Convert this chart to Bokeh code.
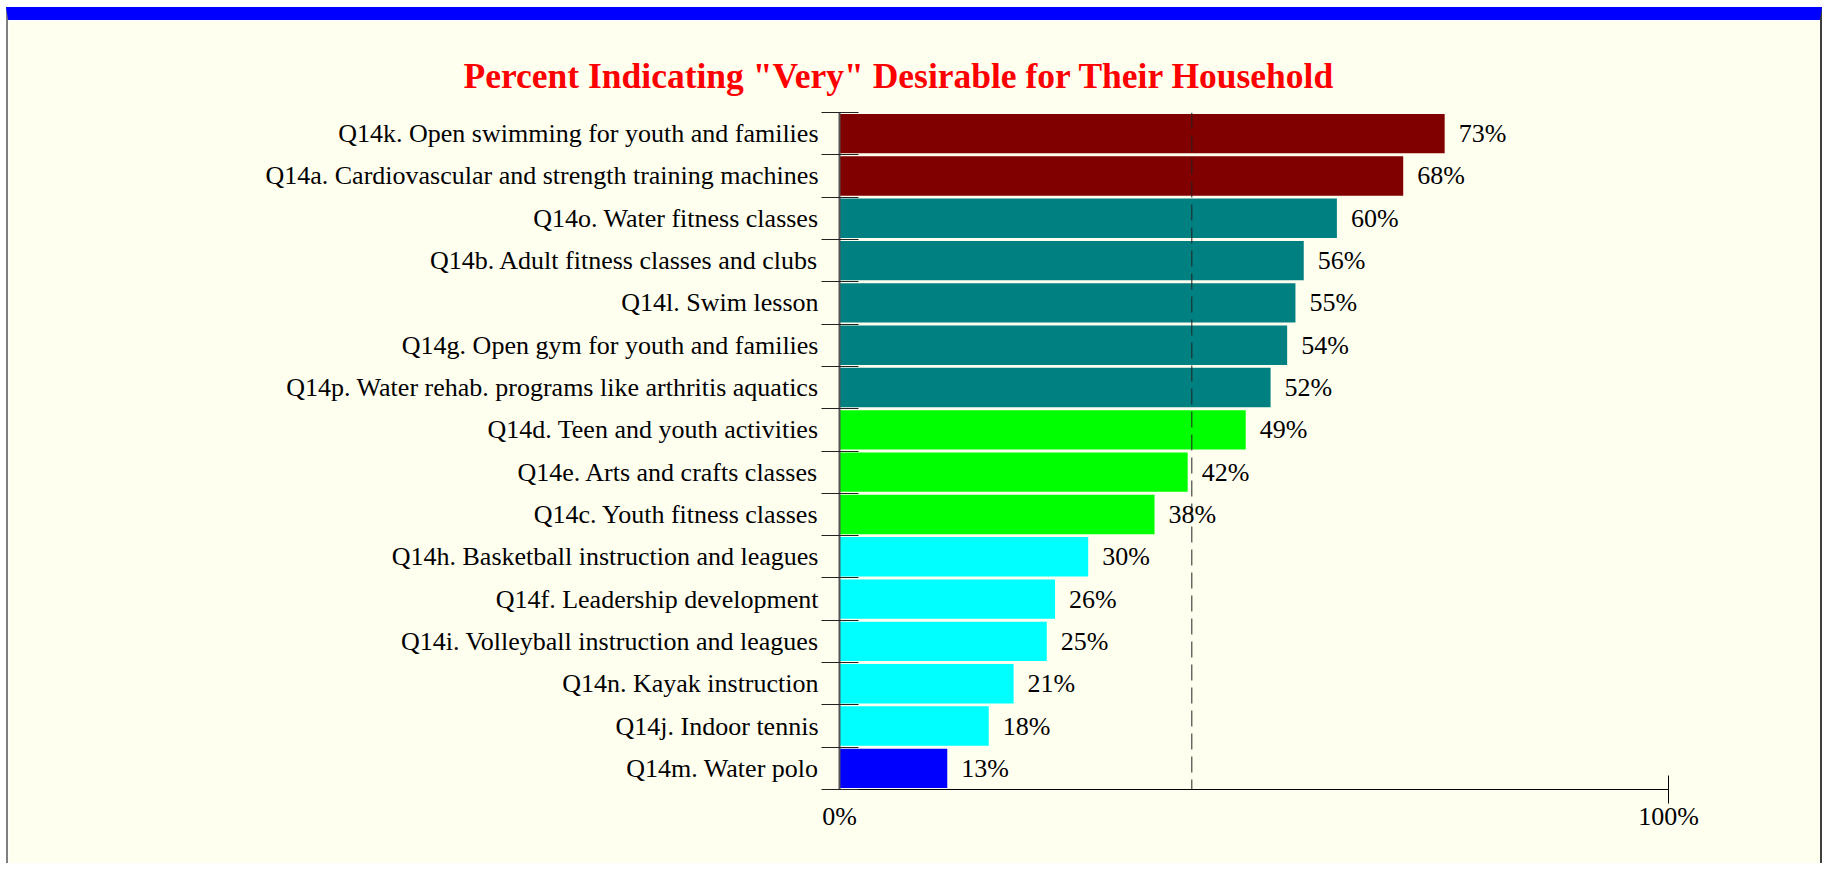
import numpy as np
from bokeh.plotting import figure
from bokeh.models import ColumnDataSource, Range1d, FixedTicker, Span, LabelSet, Title
from bokeh.embed import file_html
from bokeh.resources import INLINE

# ---------------- data ----------------
categories = [
    "Q14k. Open swimming for youth and families",
    "Q14a. Cardiovascular and strength training machines",
    "Q14o. Water fitness classes",
    "Q14b. Adult fitness classes and clubs",
    "Q14l. Swim lesson",
    "Q14g. Open gym for youth and families",
    "Q14p. Water rehab. programs like arthritis aquatics",
    "Q14d. Teen and youth activities",
    "Q14e. Arts and crafts classes",
    "Q14c. Youth fitness classes",
    "Q14h. Basketball instruction and leagues",
    "Q14f. Leadership development",
    "Q14i. Volleyball instruction and leagues",
    "Q14n. Kayak instruction",
    "Q14j. Indoor tennis",
    "Q14m. Water polo",
]
percent_values = [73, 68, 60, 56, 55, 54, 52, 49, 42, 38, 30, 26, 25, 21, 18, 13]
bar_colors = [
    "#800000", "#800000",
    "#008080", "#008080", "#008080", "#008080", "#008080",
    "#00FF00", "#00FF00", "#00FF00",
    "#00FFFF", "#00FFFF", "#00FFFF", "#00FFFF", "#00FFFF",
    "#0000FF",
]
x_tick_values = [0, 100]
x_tick_labels = ["0%", "100%"]
title_text = 'Percent Indicating "Very" Desirable for Their Household'

# ---------------- derived ----------------
n = len(categories)
y_centers = (np.arange(n)[::-1] + 0.5).tolist()   # first category on top
value_labels = [f"{v}%" for v in percent_values]
average_value = float(np.mean(percent_values))

source = ColumnDataSource(dict(
    y=y_centers, value=percent_values, color=bar_colors, label=value_labels,
))

IVORY = "#FFFFF0"
FONT = "Liberation Serif"

p = figure(
    width=1816, height=856,
    x_range=Range1d(0, 100), y_range=Range1d(0, n),
    output_backend="svg", toolbar_location=None, title=None,
    min_border_left=831, min_border_right=156,
    min_border_top=92, min_border_bottom=87,
    background_fill_color=IVORY, border_fill_color=IVORY,
)
p.styles = {
    "margin-left": "6px",
    "margin-top": "7px",
    "border-top": "13px solid #0000FF",
    "border-left": "2px solid #7f7f7f",
    "border-right": "2px solid #3f3f3f",
}
p.outline_line_color = None
p.grid.visible = False

# title
p.add_layout(Title(
    text=title_text, align="left", offset=-376, standoff=33,
    text_font=FONT, text_font_size="35.5px", text_font_style="bold",
    text_color="#FF0000",
), "above")

# bars
p.hbar(y="y", right="value", left=0, height=0.93, color="color",
       line_color=None, source=source)

# value labels
p.add_layout(LabelSet(
    x="value", y="y", text="label", source=source,
    x_offset=14, text_align="left", text_baseline="middle",
    text_font=FONT, text_font_size="26px", text_color="black",
))

# average dashed line
p.add_layout(Span(location=average_value, dimension="height",
                  line_color="#222222", line_width=1, line_dash="16 7"))

# x axis
xa = p.xaxis[0]
xa.ticker = FixedTicker(ticks=x_tick_values, minor_ticks=[x_tick_values[-1]])
xa.major_label_overrides = {t: l for t, l in zip(x_tick_values, x_tick_labels)}
xa.major_tick_in = 0
xa.major_tick_out = 0
xa.minor_tick_in = 14
xa.minor_tick_out = 14
xa.minor_tick_line_color = "black"
xa.axis_line_color = "black"
xa.axis_line_width = 1
xa.major_label_standoff = -2
xa.major_label_text_font = FONT
xa.major_label_text_font_size = "26px"
xa.major_label_text_color = "black"

# y axis: labels at category centres, ticks at boundaries
ya = p.yaxis[0]
ya.ticker = FixedTicker(ticks=y_centers, minor_ticks=list(range(n + 1)))
ya.major_label_overrides = {y: c for y, c in zip(y_centers, categories)}
ya.major_tick_in = 0
ya.major_tick_out = 0
ya.minor_tick_in = 19
ya.minor_tick_out = 18
ya.minor_tick_line_color = "#222222"
ya.axis_line_color = "#555555"
ya.axis_line_width = 2
ya.major_label_standoff = 3
ya.major_label_text_font = FONT
ya.major_label_text_font_size = "26px"
ya.major_label_text_color = "black"

open("out.html", "w").write(file_html(p, INLINE))
